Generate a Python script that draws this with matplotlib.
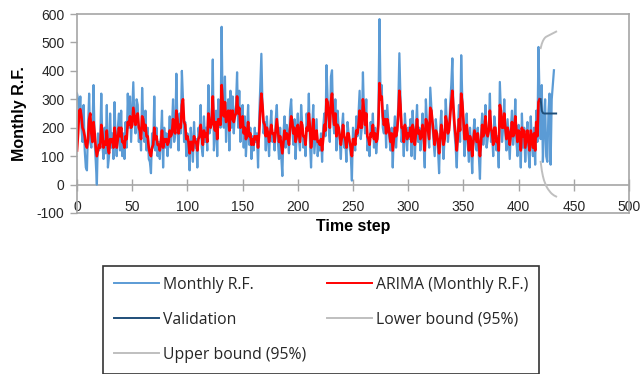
import numpy as np
import matplotlib
matplotlib.use("Agg")
import matplotlib.pyplot as plt

# ---- data ----
monthly_rf = [
    320, 300, 250, 310, 200, 150, 280, 120, 60, 50, 200, 320,
    150, 130, 200, 350, 150, 80, 0, 180, 120, 150, 320, 140,
    90, 200, 110, 280, 60, 100, 250, 130, 180, 90, 290, 150,
    100, 200, 250, 120, 260, 100, 180, 90, 220, 130, 320, 200,
    310, 150, 250, 360, 220, 180, 300, 280, 150, 200, 120, 340,
    220, 150, 260, 120, 200, 90, 80, 40, 180, 130, 310, 120,
    200, 100, 150, 90, 170, 260, 60, 200, 130, 180, 100, 160,
    240, 130, 200, 300, 150, 180, 390, 200, 120, 250, 180, 400,
    300, 150, 220, 100, 180, 120, 50, 200, 150, 80, 220, 130,
    160, 60, 200, 170, 280, 130, 100, 240, 150, 200, 120, 350,
    180, 200, 250, 440, 120, 180, 260, 100, 300, 220, 200, 555,
    250, 200, 380, 150, 260, 300, 120, 330, 200, 310, 180, 250,
    280, 395, 200, 330, 150, 220, 280, 130, 240, 100, 180, 280,
    140, 200, 90, 170, 120, 200, 150, 180, 60, 230, 350, 460,
    280, 180, 220, 120, 240, 160, 100, 200, 260, 150, 180, 120,
    230, 280, 150, 90, 200, 100, 30, 180, 240, 130, 210, 170,
    110, 260, 300, 200, 140, 230, 90, 180, 250, 160, 120, 280,
    210, 130, 170, 100, 250, 190, 320, 150, 60, 200, 280, 110,
    170, 230, 100, 150, 120, 180, 80, 200, 250, 170, 420, 300,
    200, 150, 380, 402, 220, 180, 300, 120, 260, 200, 150, 90,
    200, 250, 130, 160, 80, 220, 180, 130, 100, 14, 200, 150,
    120, 240, 170, 250, 330, 160, 200, 395, 240, 180, 300, 120,
    150, 100, 220, 170, 250, 130, 200, 110, 160, 250, 582, 300,
    350, 200, 180, 260, 130, 280, 220, 160, 120, 200, 60, 180,
    240, 130, 200, 280, 462, 300, 150, 200, 100, 250, 180, 120,
    200, 160, 230, 100, 260, 180, 90, 200, 280, 150, 200, 120,
    180, 250, 140, 60, 300, 220, 180, 130, 341, 270, 200, 150,
    100, 230, 180, 120, 40, 200, 260, 150, 90, 170, 300, 220,
    150, 200, 280, 350, 444, 250, 180, 130, 60, 200, 280, 150,
    455, 300, 200, 100, 170, 250, 140, 80, 200, 130, 40, 180,
    230, 150, 120, 200, 100, 20, 180, 250, 140, 200, 280, 130,
    160, 200, 320, 150, 180, 100, 240, 200, 120, 170, 60, 361,
    250, 150, 200, 300, 180, 120, 230, 160, 90, 200, 260, 140,
    180, 300, 150, 100, 210, 170, 60, 250, 130, 200, 80, 160,
    220, 110, 60, 240, 150, 100, 200, 70, 260, 150, 484, 300,
    160, 350, 80, 200, 300, 100, 80, 250, 320, 70, 300, 350, 402,
]

arima_fit = [
    120, 180, 260, 265, 240, 200, 190, 170, 140, 130, 160, 230,
    250, 180, 150, 220, 180, 130, 100, 120, 140, 130, 210, 180,
    130, 150, 140, 190, 130, 110, 160, 150, 160, 130, 200, 170,
    130, 160, 200, 170, 200, 150, 150, 130, 170, 160, 220, 210,
    240, 200, 210, 270, 240, 210, 240, 250, 200, 190, 160, 240,
    230, 190, 210, 170, 170, 130, 110, 100, 130, 140, 200, 160,
    170, 140, 140, 120, 150, 190, 130, 160, 150, 160, 140, 150,
    190, 170, 180, 230, 190, 180, 260, 230, 180, 210, 200, 280,
    300, 220, 210, 160, 170, 150, 110, 150, 150, 120, 170, 150,
    150, 120, 160, 170, 210, 170, 140, 190, 170, 180, 150, 250,
    220, 200, 220, 310, 210, 190, 220, 160, 230, 220, 210, 350,
    290, 240, 290, 220, 240, 260, 190, 260, 230, 260, 220, 240,
    250, 310, 250, 270, 200, 210, 240, 180, 200, 160, 170, 220,
    170, 180, 140, 160, 140, 170, 160, 170, 130, 180, 260, 320,
    280, 220, 210, 170, 200, 180, 150, 180, 210, 180, 180, 150,
    190, 230, 190, 150, 170, 140, 110, 150, 190, 160, 180, 170,
    140, 200, 240, 220, 180, 200, 150, 170, 210, 180, 150, 220,
    210, 170, 170, 140, 200, 190, 250, 200, 130, 170, 230, 160,
    160, 190, 150, 150, 140, 160, 120, 160, 210, 190, 300, 290,
    240, 200, 290, 320, 250, 210, 250, 170, 210, 200, 170, 140,
    170, 210, 170, 160, 130, 180, 180, 150, 130, 100, 160, 160,
    140, 190, 180, 210, 260, 200, 200, 300, 260, 210, 250, 170,
    160, 140, 180, 170, 210, 160, 180, 150, 160, 210, 357, 300,
    310, 240, 210, 230, 180, 230, 210, 180, 150, 180, 120, 160,
    200, 170, 190, 240, 330, 280, 200, 200, 150, 210, 190, 160,
    180, 170, 200, 150, 210, 190, 140, 180, 230, 180, 190, 160,
    170, 210, 170, 120, 230, 220, 190, 160, 270, 260, 220, 180,
    140, 190, 180, 150, 110, 160, 210, 180, 140, 160, 240, 220,
    180, 190, 240, 290, 330, 270, 210, 170, 120, 170, 230, 190,
    320, 290, 230, 160, 160, 210, 170, 120, 170, 150, 100, 150,
    190, 170, 150, 180, 140, 100, 150, 210, 170, 190, 240, 180,
    170, 190, 260, 200, 180, 140, 200, 200, 150, 160, 120, 280,
    260, 200, 200, 250, 200, 160, 200, 180, 140, 180, 220, 170,
    180, 240, 190, 150, 190, 180, 120, 200, 170, 190, 130, 160,
    190, 150, 120, 190, 160, 130, 180, 120, 220, 170, 290, 300,
]

# forecast horizon
fc_start = 420
validation = [300, 260, 252, 250, 250, 250, 250, 250, 250, 250, 250, 250, 250, 250, 250]
lower_95 = [80, 50, 30, 15, 5, -5, -12, -18, -23, -28, -32, -35, -38, -40, -42]
upper_95 = [480, 495, 505, 512, 517, 520, 522, 524, 526, 528, 530, 532, 534, 536, 538]

x_ticks = [0, 50, 100, 150, 200, 250, 300, 350, 400, 450, 500]
y_ticks = [-100, 0, 100, 200, 300, 400, 500, 600]

# ---- plot ----
plt.rcParams["font.family"] = ["Liberation Sans", "DejaVu Sans"]
plt.rcParams["axes.unicode_minus"] = False
fig = plt.figure(figsize=(6.42, 3.74), dpi=100)
ax = fig.add_axes([77 / 642, 1 - 213 / 374, 552 / 642, 199 / 374])

grey = "#A6A6A6"
text_c = "#262626"
t_obs = np.arange(len(monthly_rf))
t_fit = np.arange(len(arima_fit))
t_fc = np.arange(fc_start, fc_start + len(validation))

ax.plot(t_obs, monthly_rf, color="#5B9BD5", lw=1.6, label="Monthly R.F.")
ax.plot(t_fit, arima_fit, color="#FF0000", lw=1.9, label="ARIMA (Monthly R.F.)")
ax.plot(t_fc, validation, color="#1F4E79", lw=1.4, label="Validation")
ax.plot(t_fc, lower_95, color="#BFBFBF", lw=1.4, label="Lower bound (95%)")
ax.plot(t_fc, upper_95, color="#BFBFBF", lw=1.4, label="Upper bound (95%)")

ax.set_xlim(0, 500)
ax.set_ylim(-100, 600)
ax.set_xticks(x_ticks)
ax.set_yticks(y_ticks)
ax.tick_params(axis="x", length=0, labelbottom=False)
ax.tick_params(axis="y", length=5, width=1, color=grey, labelsize=10,
               labelcolor=text_c, pad=4)
for s in ax.spines.values():
    s.set_color(grey)
    s.set_linewidth(1.2)

# horizontal axis crossing at zero; its labels sit just above the frame
sec = ax.secondary_xaxis(0, transform=ax.transData)
sec.set_xticks(x_ticks)
sec.tick_params(axis="x", direction="inout", length=8, width=1, color=grey,
                labelsize=10, labelcolor=text_c, pad=7)
sec.spines["bottom"].set_color(grey)
sec.spines["bottom"].set_linewidth(1.2)

ax.set_xlabel("Time step", fontsize=11.5, fontweight="bold", labelpad=4)
ax.set_ylabel("Monthly R.F.", fontsize=11.5, fontweight="bold", labelpad=7)

# row-major legend order, as in the reference
handles, labels = ax.get_legend_handles_labels()
order = [0, 2, 4, 1, 3]
leg = fig.legend([handles[i] for i in order], [labels[i] for i in order],
                 ncol=2, loc="upper left",
                 bbox_to_anchor=(103 / 642, 1 - 266 / 374),
                 prop={"family": "Open Sans", "size": 11.3},
                 handlelength=2.9, handletextpad=0.25,
                 columnspacing=1.3, labelspacing=1.22, borderpad=0.68,
                 frameon=True, fancybox=False, borderaxespad=0)
leg.get_frame().set_edgecolor("black")
leg.get_frame().set_linewidth(1.2)
for h in leg.get_lines():
    h.set_linewidth(1.4)
for txt in leg.get_texts():
    txt.set_color(text_c)

fig.savefig("out.png", dpi=100)
